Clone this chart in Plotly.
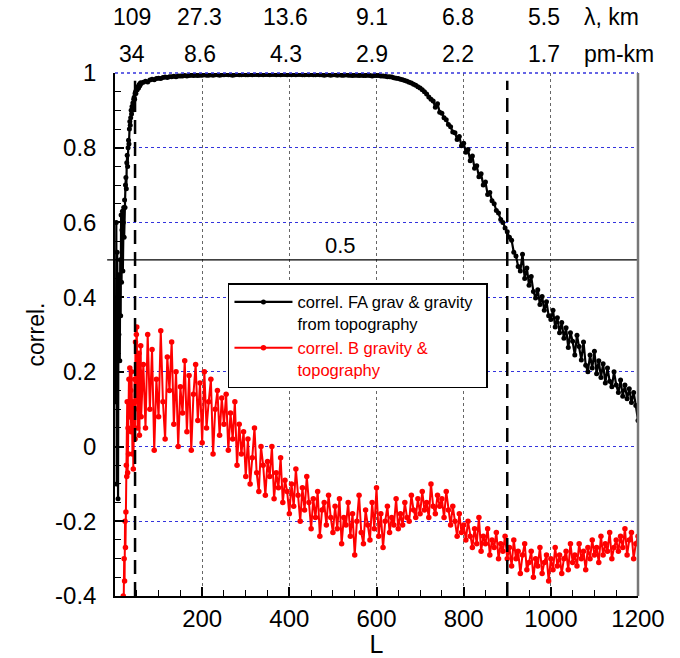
import plotly.graph_objects as go

# ---------------- data ----------------
L_black = list(range(2, 61)) + list(range(65, 1201, 5))
black_low = [0.12, 0.60, -0.10, 0.52, 0.40, -0.14, 0.46, 0.30, 0.45, 0.23,
             0.50, 0.35, 0.62, 0.44, 0.58, 0.63, 0.47, 0.60, 0.64, 0.56,
             0.66, 0.64, 0.70, 0.72, 0.69, 0.76, 0.78, 0.75, 0.80, 0.82,
             0.81, 0.85, 0.87, 0.86, 0.88, 0.90, 0.89, 0.91, 0.90, 0.92,
             0.91, 0.93, 0.935, 0.93, 0.945, 0.95, 0.945, 0.955, 0.96, 0.955,
             0.962, 0.963, 0.96, 0.967, 0.97, 0.966, 0.972, 0.974, 0.972]
black_rise = [0.975, 0.978, 0.976, 0.981, 0.983, 0.982, 0.985, 0.986, 0.985, 0.988,
              0.989, 0.988, 0.990, 0.990, 0.991, 0.990, 0.992, 0.992]
black_flat = [0.992, 0.993, 0.992, 0.993, 0.994, 0.993, 0.994, 0.993, 0.994, 0.994,
              0.995, 0.994, 0.994, 0.995, 0.994, 0.995, 0.995, 0.994, 0.995, 0.995,
              0.996, 0.995, 0.995, 0.994, 0.995, 0.996, 0.995, 0.995, 0.996, 0.995,
              0.995, 0.996, 0.995, 0.996, 0.996, 0.995, 0.996, 0.995, 0.996, 0.996,
              0.995, 0.996, 0.996, 0.995, 0.996, 0.995, 0.996, 0.996, 0.995, 0.996,
              0.995, 0.996, 0.995, 0.996, 0.996, 0.995, 0.995, 0.996, 0.995, 0.996,
              0.995, 0.995, 0.996, 0.995, 0.995, 0.994, 0.995, 0.995, 0.994, 0.995,
              0.995, 0.994, 0.995, 0.994, 0.994, 0.995, 0.994, 0.994, 0.993, 0.994,
              0.994, 0.993, 0.994, 0.993, 0.993, 0.994, 0.993, 0.992, 0.993, 0.993]
black_fall = [0.993, 0.992, 0.992, 0.991, 0.990, 0.990, 0.989, 0.987, 0.986, 0.985,
              0.983, 0.982, 0.980, 0.978, 0.975, 0.973, 0.970, 0.967, 0.963, 0.960,
              0.955, 0.950, 0.944, 0.936, 0.930, 0.925, 0.908, 0.918, 0.895, 0.892,
              0.880, 0.875, 0.862, 0.856, 0.842, 0.840, 0.822, 0.830, 0.805, 0.812,
              0.788, 0.795, 0.765, 0.778, 0.745, 0.752, 0.722, 0.730, 0.700, 0.708,
              0.675, 0.680, 0.658, 0.650, 0.632, 0.625, 0.608, 0.600, 0.585, 0.575,
              0.560, 0.552, 0.520, 0.510, 0.482, 0.470, 0.515, 0.450, 0.478, 0.432,
              0.455, 0.415, 0.398, 0.420, 0.380, 0.402, 0.365, 0.388, 0.350, 0.340,
              0.365, 0.320, 0.345, 0.305, 0.332, 0.290, 0.318, 0.265, 0.305, 0.282,
              0.245, 0.298, 0.268, 0.232, 0.280, 0.218, 0.200, 0.245, 0.210, 0.255,
              0.195, 0.230, 0.185, 0.222, 0.170, 0.210, 0.175, 0.160, 0.200, 0.165,
              0.145, 0.178, 0.135, 0.165, 0.128, 0.155, 0.118, 0.145, 0.110, 0.070]
black_vals = black_low + black_rise + black_flat + black_fall

L_red = list(range(19, 61)) + list(range(65, 1201, 5))
red_low = [-0.40, -0.41, -0.30, -0.36, -0.20, -0.27, -0.175, -0.05, -0.08, 0.12,
           -0.07, 0.05, -0.02, 0.18, 0.08, 0.21, 0.08, 0.15, 0.04, 0.20,
           0.10, -0.02, 0.12, -0.06, 0.05, 0.10, 0.18, 0.02, 0.28, 0.12,
           0.30, 0.32, 0.15, 0.05, 0.22, 0.10, 0.25, 0.03, 0.20, 0.14,
           0.27, 0.08]
red_main = [0.22, 0.05, 0.30, 0.10, 0.26, -0.01, 0.18, 0.08, 0.31, 0.12,
            0.02, 0.24, 0.15, 0.28, 0.06, 0.20, 0.00, 0.16,
            0.09, 0.23, 0.04, 0.19, -0.01, 0.14, 0.22, 0.07, 0.17, 0.01,
            0.20, 0.05, 0.12, 0.18, -0.02, 0.10, 0.15, 0.03, 0.13, 0.06,
            0.14, -0.01, 0.09, 0.02, 0.12, -0.05, 0.06, -0.02, 0.04, -0.08,
            0.02, -0.10, -0.03, 0.05, -0.07, -0.12, 0.00, -0.05, -0.13, -0.04,
            -0.08, 0.00, -0.14, -0.07, -0.11, -0.03, -0.15, -0.09, -0.12, -0.18,
            -0.10, -0.16, -0.06, -0.13, -0.20, -0.11, -0.17, -0.08, -0.15, -0.22,
            -0.14, -0.19, -0.12, -0.24, -0.17, -0.15, -0.21, -0.13, -0.19, -0.23,
            -0.16, -0.22, -0.14, -0.26, -0.19, -0.21, -0.15, -0.24, -0.18, -0.29,
            -0.20, -0.13, -0.23, -0.26, -0.17, -0.21, -0.25, -0.15, -0.22, -0.11,
            -0.24, -0.18, -0.27, -0.20, -0.16, -0.23, -0.19, -0.21, -0.14, -0.22,
            -0.18, -0.21, -0.15, -0.19, -0.20, -0.13, -0.17, -0.19, -0.14, -0.18,
            -0.12, -0.17, -0.15, -0.19, -0.10, -0.16, -0.18, -0.13, -0.16, -0.14,
            -0.19, -0.12, -0.17, -0.21, -0.16, -0.20, -0.24, -0.18, -0.23, -0.21,
            -0.25, -0.20, -0.24, -0.27, -0.22, -0.26, -0.19, -0.28, -0.24, -0.26,
            -0.22, -0.29, -0.25, -0.27, -0.23, -0.30, -0.26, -0.28, -0.24, -0.30,
            -0.27, -0.32, -0.25, -0.30, -0.28, -0.34, -0.29, -0.26, -0.33, -0.31,
            -0.28, -0.35, -0.30, -0.32, -0.27, -0.34, -0.31, -0.29, -0.36, -0.30,
            -0.33, -0.27, -0.32, -0.29, -0.34, -0.30, -0.28, -0.33, -0.26, -0.31,
            -0.29, -0.32, -0.26, -0.30, -0.28, -0.33, -0.27, -0.30, -0.25, -0.29,
            -0.27, -0.31, -0.24, -0.29, -0.26, -0.28, -0.23, -0.30, -0.27, -0.25,
            -0.28, -0.24, -0.27, -0.22, -0.29, -0.25, -0.23, -0.30, -0.26, -0.24]
red_vals = red_low + red_main

# top axis labels (placed just left of the L gridlines, as in the original)
top_L = [40, 195, 392, 590, 787, 985]
lambda_km = ["109", "27.3", "13.6", "9.1", "6.8", "5.5"]
pm_km = ["34", "8.6", "4.3", "2.9", "2.2", "1.7"]

y_ticks = [1, 0.8, 0.6, 0.4, 0.2, 0, -0.2, -0.4]
y_ticktext = ["1", "0.8", "0.6", "0.4", "0.2", "0", "-0.2", "-0.4"]
x_ticks = [200, 400, 600, 800, 1000, 1200]
x_minor = list(range(50, 1200, 50))

dashed_L = [46, 900]
ref_level = 0.5

FONT = "Liberation Sans, Arial, sans-serif"
SP = "\u2002"
X_RANGE = [0, 1200]
Y_RANGE = [-0.4, 1.0]

fig = go.Figure()
fig.add_trace(go.Scatter(
    x=L_black, y=black_vals, mode="lines+markers",
    name="correl. FA grav & gravity" + SP + "<br>from topography",
    line=dict(color="black", width=2.2),
    marker=dict(color="black", size=5),
))
fig.add_trace(go.Scatter(
    x=L_red, y=red_vals, mode="lines+markers", xaxis="x2", yaxis="y2",
    name='<span style="color:#ff0000">correl. B gravity &<br>topography</span>',
    line=dict(color="#ff0000", width=2),
    marker=dict(color="#ff0000", size=5.5),
))

# reference line at 0.5
fig.add_shape(type="line", xref="paper", yref="y", x0=-0.015, x1=1.0,
              y0=ref_level, y1=ref_level, line=dict(color="black", width=1.2))
fig.add_annotation(x=518, y=ref_level, xref="x", yref="y", text="0.5",
                   showarrow=False, yanchor="bottom", yshift=0,
                   font=dict(size=22, color="black", family=FONT))

# dashed verticals
for d in dashed_L:
    fig.add_shape(type="line", xref="x", yref="paper", x0=d, x1=d, y0=0, y1=0.985,
                  line=dict(color="black", width=2.5, dash="14px,8px"))

# top border (dotted) and right border
fig.add_shape(type="line", xref="paper", yref="paper", x0=0, x1=1, y0=1, y1=1,
              line=dict(color="#3333dd", width=1.5, dash="dot"))
fig.add_shape(type="line", xref="paper", yref="paper", x0=1, x1=1, y0=0, y1=1,
              line=dict(color="#777777", width=2.5))

# top labels
for xv, a, b in zip(top_L, lambda_km, pm_km):
    fig.add_annotation(x=xv, y=1.107, xref="x", yref="paper", text=a, showarrow=False,
                       yanchor="middle", font=dict(size=23, color="black", family=FONT))
    fig.add_annotation(x=xv, y=1.036, xref="x", yref="paper", text=b, showarrow=False,
                       yanchor="middle", font=dict(size=23, color="black", family=FONT))
fig.add_annotation(x=0.893, y=1.107, xref="paper", yref="paper", text="λ, km",
                   showarrow=False, xanchor="left", yanchor="middle",
                   font=dict(size=23, color="black", family=FONT))
fig.add_annotation(x=0.893, y=1.036, xref="paper", yref="paper", text="pm-km",
                   showarrow=False, xanchor="left", yanchor="middle",
                   font=dict(size=23, color="black", family=FONT))

fig.update_layout(
    width=680, height=658,
    margin=dict(l=115, r=42, t=73, b=62),
    paper_bgcolor="white", plot_bgcolor="white",
    font=dict(family=FONT, size=22, color="black"),
    showlegend=True,
    legend=dict(
        x=0.216, y=0.598, xanchor="left", yanchor="top",
        bgcolor="white", bordercolor="black", borderwidth=1.5,
        font=dict(size=16.5, family=FONT, color="black"),
        itemwidth=58, valign="top", tracegroupgap=0,
    ),
    xaxis=dict(
        range=X_RANGE, tickmode="array", tickvals=x_ticks,
        ticktext=[str(v) for v in x_ticks], automargin=False,
        showgrid=True, gridcolor="#666666", griddash="dot", gridwidth=1,
        showline=True, linecolor="black", linewidth=1.5,
        ticks="", zeroline=False,
        title=dict(text="L", font=dict(size=25, family=FONT), standoff=6),
        tickfont=dict(size=24, family=FONT),
    ),
    yaxis=dict(
        range=Y_RANGE, tickmode="array", tickvals=y_ticks,
        ticktext=[t + SP for t in y_ticktext], automargin=False,
        showgrid=True, gridcolor="#3333dd", griddash="dot", gridwidth=1,
        showline=True, linecolor="black", linewidth=1.5,
        ticks="", zeroline=False,
        title=dict(text="correl.", font=dict(size=23, family=FONT), standoff=4),
        tickfont=dict(size=24, family=FONT),
    ),
    # overlay axes that carry the inside tick marks
    xaxis2=dict(
        overlaying="x", anchor="y2", side="bottom", range=X_RANGE,
        showgrid=False, showticklabels=False, showline=False, zeroline=False,
        tickmode="array", tickvals=x_ticks,
        ticks="inside", ticklen=9, tickcolor="black", tickwidth=1.5,
        minor=dict(tickmode="array", tickvals=x_minor, ticks="inside", ticklen=6,
                   tickcolor="black", tickwidth=1.3, showgrid=False),
    ),
    yaxis2=dict(
        overlaying="y", anchor="x2", side="left", range=Y_RANGE,
        showgrid=False, showticklabels=False, showline=False, zeroline=False,
        tickmode="array", tickvals=y_ticks,
        ticks="inside", ticklen=9, tickcolor="black", tickwidth=1.5,
        minor=dict(dtick=0.05, ticks="inside", ticklen=6,
                   tickcolor="black", tickwidth=1.3, showgrid=False),
    ),
)

fig.write_html("out.html")
